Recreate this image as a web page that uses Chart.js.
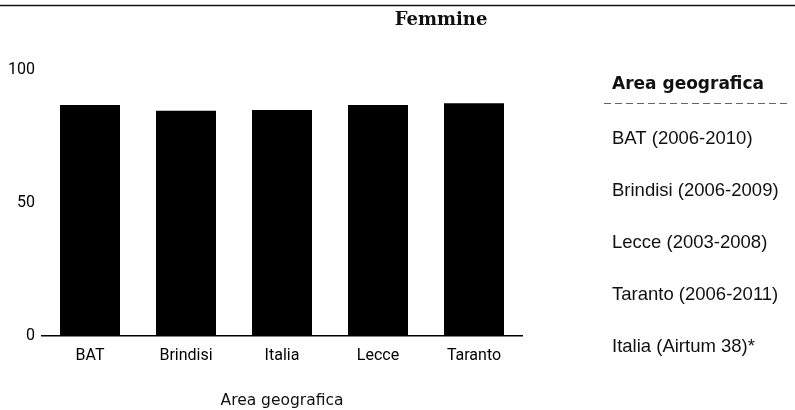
<!DOCTYPE html>
<html>
<head>
<meta charset="utf-8">
<script src="https://cdn.jsdelivr.net/npm/chart.js@4.4.1/dist/chart.umd.min.js"></script>
<style>
html,body{margin:0;padding:0;background:#fff}
#wrap{width:795px;height:410px;position:relative}
</style>
</head>
<body>
<div id="wrap"><canvas id="chart" width="795" height="410"></canvas></div>
<script>
// sopravvivenza a 5 anni, tumore della mammella - femmine
let categories = ["BAT","Brindisi","Italia","Lecce","Taranto"]
let survival = [86.8,84.7,85.0,86.8,87.5]
let yTicks = [0,50,100]

let chartTitle = "Femmine"
let legendTitle = "Area geografica"
let legendItems = ["BAT (2006-2010)","Brindisi (2006-2009)","Lecce (2003-2008)","Taranto (2006-2011)","Italia (Airtum 38)*"]

// titolo, intestazione tagliata e legenda testuale a destra
let sidePanel = {
id:"sidePanel",
afterDraw(chart){
let ctx = chart.ctx
ctx.save()

ctx.strokeStyle="#111"
ctx.lineWidth=1.5
ctx.beginPath()
ctx.moveTo(0,5.5)
ctx.lineTo(795,5.5)
ctx.stroke()

ctx.fillStyle="#111"
ctx.textBaseline="middle"
ctx.textAlign="center"
ctx.font='bold 18px "DejaVu Serif"'
ctx.fillText(chartTitle,441,20)

ctx.textAlign="left"
ctx.font='bold 17px "DejaVu Sans"'
ctx.fillText(legendTitle,612,85)

ctx.strokeStyle="#666"
ctx.lineWidth=1
ctx.setLineDash([7,4])
ctx.beginPath()
ctx.moveTo(604,103.5)
ctx.lineTo(790,103.5)
ctx.stroke()
ctx.setLineDash([])

ctx.font='18.5px "Liberation Sans"'
legendItems.forEach((t,i)=>{
ctx.fillText(t,612,139+i*52)
})

ctx.restore()
}
}

new Chart(document.getElementById("chart"),{
type:"bar",
data:{
labels:categories,
datasets:[{
label:legendTitle,
data:survival,
backgroundColor:"#000",
borderWidth:0,
barPercentage:0.625,
categoryPercentage:1
}]
},
options:{
responsive:false,
animation:false,
layout:{padding:{left:0,right:273,top:70,bottom:0}},
plugins:{
legend:{display:false},
tooltip:{enabled:false}
},
scales:{
x:{
grid:{display:false,drawTicks:false},
border:{display:true,color:"#000",width:1.5},
ticks:{color:"#000",padding:10,font:{family:"Roboto",size:16}},
title:{display:true,text:"Area geografica",color:"#111",padding:{top:0,bottom:0},font:{family:"DejaVu Sans",size:15.5}},
afterFit(s){ s.height = 74 }
},
y:{
min:0,
max:100,
grid:{display:false,drawTicks:false},
border:{display:false},
afterBuildTicks(s){ s.ticks = yTicks.map(v=>({value:v})) },
ticks:{color:"#000",padding:7,font:{family:"Roboto",size:16}},
afterFit(s){ s.width = 42 }
}
}
},
plugins:[sidePanel]
})
</script>
</body>
</html>
